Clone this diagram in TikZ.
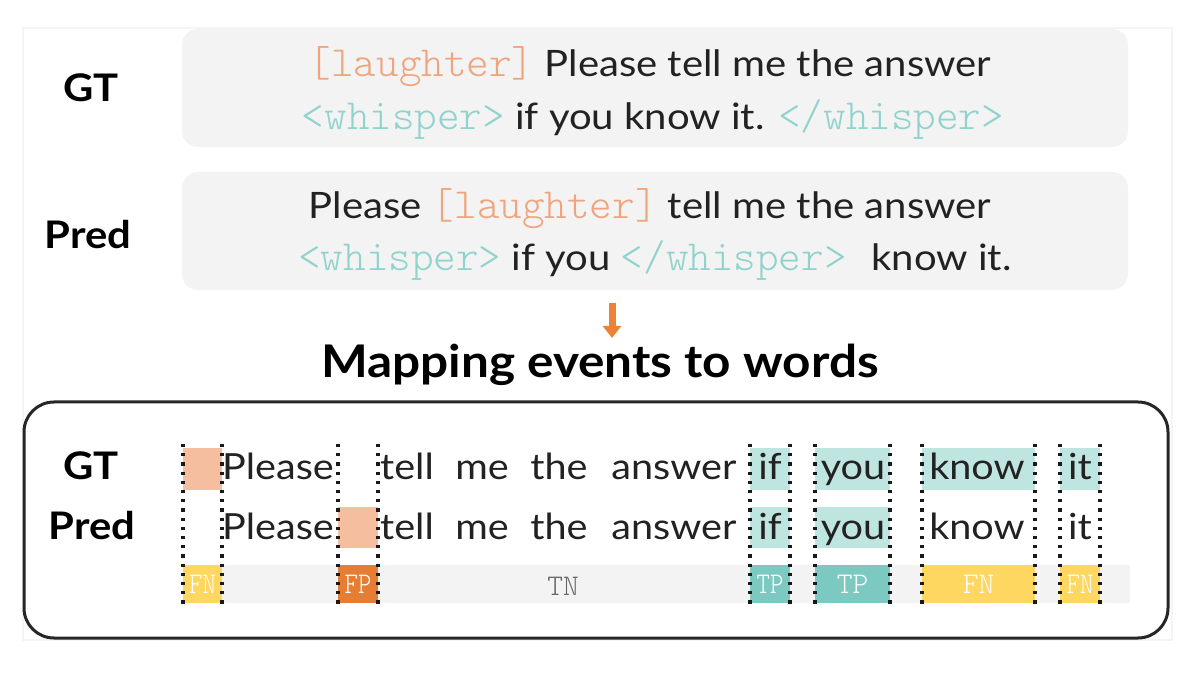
\documentclass[tikz,border=0pt]{standalone}
\usepackage{fontspec}
\setmainfont{Lato}[FakeStretch=1.1]
\newfontfamily\monof{Latin Modern Mono Light}
\usetikzlibrary{arrows.meta}
\definecolor{boxgray}{HTML}{F3F3F3}
\definecolor{laugh}{HTML}{EFA47C}
\definecolor{whisp}{HTML}{8FD3CC}
\definecolor{txt}{HTML}{222222}
\definecolor{lorange}{HTML}{F4BE9F}
\definecolor{dorange}{HTML}{E57D35}
\definecolor{lteal}{HTML}{BFE5E1}
\definecolor{dteal}{HTML}{7CC9C1}
\definecolor{yell}{HTML}{FDD75F}
\definecolor{arrowc}{HTML}{EC8236}
\newcommand{\lgtag}[1]{{\monof\fontsize{21.5}{22}\selectfont\color{laugh}#1}}
\newcommand{\whtag}[1]{{\monof\fontsize{21.5}{22}\selectfont\color{whisp}#1}}
\tikzset{
  sentbox/.style={fill=boxgray, rounded corners=8pt},
  sent/.style={anchor=base, inner sep=0pt, text=txt, font=\fontsize{18.2}{20}\selectfont},
  rowlbl/.style={anchor=base, inner sep=0pt, text=black, font=\bfseries\fontsize{19}{20}\selectfont},
  word/.style={anchor=base, inner sep=0pt, text=txt, font=\fontsize{18}{22}\selectfont},
  tag/.style={inner sep=0pt, font=\monof\fontsize{15}{16}\selectfont, text=white},
  dotline/.style={line width=1.6pt, dash pattern=on 1.6pt off 3pt, black!90},
  title/.style={anchor=base, inner sep=0pt, text=black, font=\bfseries\fontsize{22.5}{26}\selectfont},
}
\begin{document}
\begin{tikzpicture}[x=0.5pt,y=-0.5pt]
\useasboundingbox (0,0) rectangle (1200,673);
% faint outer frame
\draw[black!4, line width=0.6pt] (23,28) rectangle (1172,640);
% top sentence boxes
\fill[sentbox] (182,29) rectangle (1128,147);
\fill[sentbox] (182,172) rectangle (1128,290);
\node[rowlbl] (gtlbl) at (91,102) {GT};
\node[rowlbl] (predlbl) at (88,249) {Pred};
\node[sent] (gt1) at (650,77) {\lgtag{[laughter]} Please tell me the answer};
\node[sent] (gt2) at (653,130) {\whtag{<whisper>} if you know it. \whtag{</whisper>}};
\node[sent] (pr1) at (650,219) {Please \lgtag{[laughter]} tell me the answer};
\node[sent] (pr2) at (655,271) {\whtag{<whisper>} if you \whtag{</whisper>}\hspace{0.4em} know it.};
% arrow
\coordinate (arrS) at (612,303);
\coordinate (arrE) at (612,338);
\draw[arrowc, line width=3.5pt, -{Triangle[width=9pt,length=6pt]}] (arrS) -- (arrE);
\node[title] (ttl) at (600,378) {Mapping events to words};
% bottom box
\draw[black!85, line width=1.5pt, rounded corners=15pt] (24,402) rectangle (1168,638);
\node[rowlbl] (gt3) at (91,480) {GT};
\node[rowlbl] (pr3) at (92,539) {Pred};
% label bar
\fill[boxgray] (183,565) rectangle (1130,603);
% highlights
\fill[lorange] (183,448) rectangle (222,490);
\fill[lorange] (338,507) rectangle (378,548);
\foreach \a/\b in {750/790,815/890,922/1035,1060/1100}{\fill[lteal] (\a,448) rectangle (\b,490);}
\foreach \a/\b in {750/790,815/890}{\fill[lteal] (\a,507) rectangle (\b,548);}
% tags
\fill[yell] (183,565) rectangle (222,603);
\fill[dorange] (338,565) rectangle (378,603);
\fill[dteal] (750,565) rectangle (790,603);
\fill[dteal] (815,565) rectangle (890,603);
\fill[yell] (922,565) rectangle (1035,603);
\fill[yell] (1060,565) rectangle (1100,603);
\node[tag, xscale=0.85] (t1) at (202.5,584) {FN};
\node[tag, xscale=0.85] (t2) at (358,584) {FP};
\node[tag, text=black!60] (t3) at (563,586) {TN};
\node[tag, xscale=0.85] (t4) at (770,584) {TP};
\node[tag] (t5) at (852.5,584) {TP};
\node[tag] (t6) at (978.5,584) {FN};
\node[tag, xscale=0.85] (t7) at (1080,584) {FN};
% words
\foreach \r/\y in {g/480,p/539}{
  \node[word] (\r please) at (278,\y) {Please};
  \node[word] (\r tell) at (407,\y) {tell};
  \node[word] (\r me) at (482,\y) {me};
  \node[word] (\r the) at (559,\y) {the};
  \node[word] (\r answer) at (674,\y) {answer};
  \node[word] (\r if) at (770,\y) {if};
  \node[word] (\r you) at (853,\y) {you};
  \node[word] (\r know) at (977,\y) {know};
  \node[word] (\r it) at (1080,\y) {it};
}
% dotted separators
\foreach \x in {183,222,338,378,750,790,815,890,922,1035,1060,1100}{
  \draw[dotline] (\x,444) -- (\x,605);
}
\end{tikzpicture}
\end{document}
